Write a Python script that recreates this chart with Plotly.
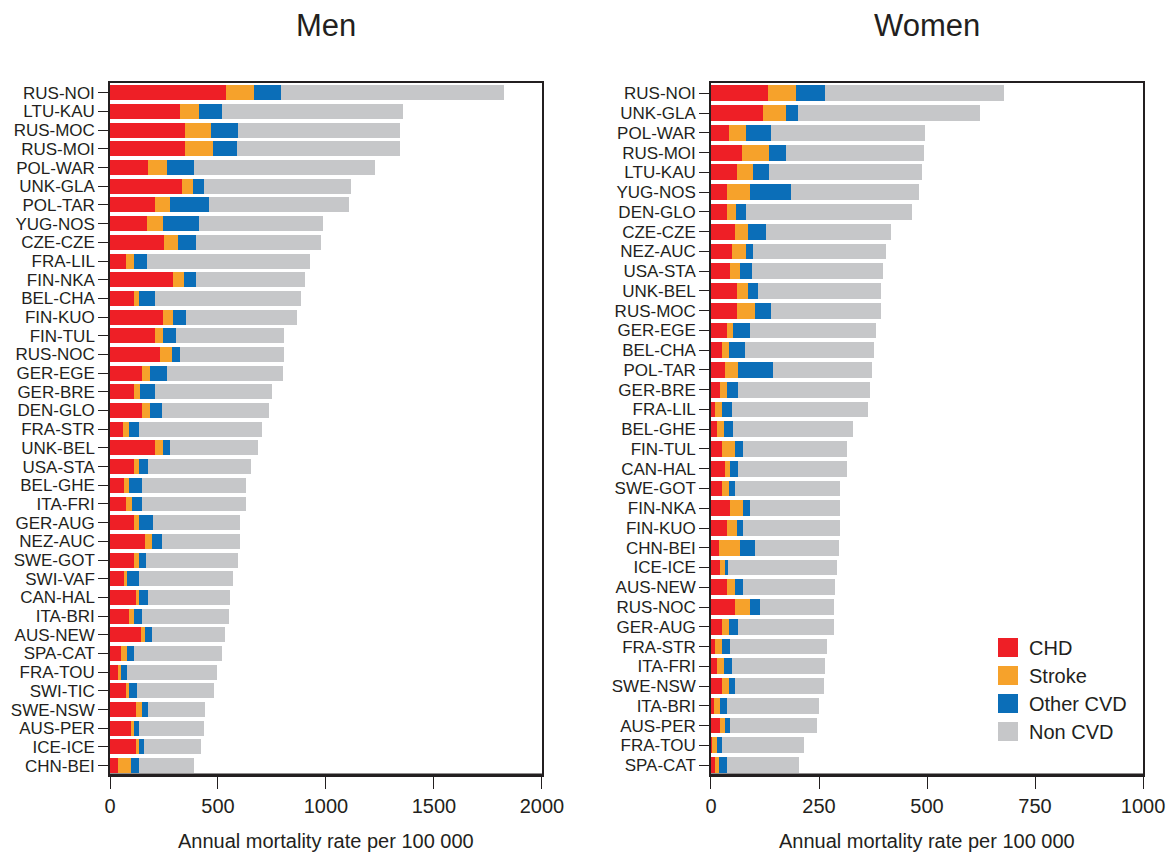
import plotly.graph_objects as go

# Annual mortality rate per 100 000, split by cause of death
causes = ["CHD", "Stroke", "Other CVD", "Non CVD"]
cause_colors = ["#EE1F26", "#F6A22B", "#0B6EB8", "#C6C7C9"]

men_pop = ["RUS-NOI", "LTU-KAU", "RUS-MOC", "RUS-MOI", "POL-WAR", "UNK-GLA", "POL-TAR",
           "YUG-NOS", "CZE-CZE", "FRA-LIL", "FIN-NKA", "BEL-CHA", "FIN-KUO", "FIN-TUL",
           "RUS-NOC", "GER-EGE", "GER-BRE", "DEN-GLO", "FRA-STR", "UNK-BEL", "USA-STA",
           "BEL-GHE", "ITA-FRI", "GER-AUG", "NEZ-AUC", "SWE-GOT", "SWI-VAF", "CAN-HAL",
           "ITA-BRI", "AUS-NEW", "SPA-CAT", "FRA-TOU", "SWI-TIC", "SWE-NSW", "AUS-PER",
           "ICE-ICE", "CHN-BEI"]
men_chd = [535, 322, 345, 345, 178, 332, 208, 172, 248, 73, 292, 109, 246, 210, 231, 150,
           111, 150, 58, 210, 109, 64, 74, 109, 163, 111, 64, 119, 89, 142, 51, 36, 74,
           119, 97, 119, 36]
men_stroke = [133, 90, 122, 130, 84, 51, 69, 74, 67, 36, 51, 23, 46, 36, 54, 36, 29, 36,
              29, 36, 23, 23, 30, 25, 32, 23, 17, 15, 22, 21, 30, 15, 15, 30, 14, 15, 60]
men_other = [124, 108, 127, 112, 129, 53, 182, 167, 84, 63, 56, 78, 61, 61, 37, 76, 70,
             55, 47, 31, 46, 63, 46, 67, 46, 31, 53, 44, 39, 32, 30, 30, 38, 29, 23, 23, 38]
men_non = [1033, 835, 747, 754, 837, 679, 647, 574, 579, 755, 505, 673, 513, 498, 483,
           537, 542, 497, 572, 406, 477, 482, 482, 401, 361, 429, 437, 378, 399, 338, 407,
           414, 353, 264, 302, 264, 255]

women_pop = ["RUS-NOI", "UNK-GLA", "POL-WAR", "RUS-MOI", "LTU-KAU", "YUG-NOS", "DEN-GLO",
             "CZE-CZE", "NEZ-AUC", "USA-STA", "UNK-BEL", "RUS-MOC", "GER-EGE", "BEL-CHA",
             "POL-TAR", "GER-BRE", "FRA-LIL", "BEL-GHE", "FIN-TUL", "CAN-HAL", "SWE-GOT",
             "FIN-NKA", "FIN-KUO", "CHN-BEI", "ICE-ICE", "AUS-NEW", "RUS-NOC", "GER-AUG",
             "FRA-STR", "ITA-FRI", "SWE-NSW", "ITA-BRI", "AUS-PER", "FRA-TOU", "SPA-CAT"]
women_chd = [132, 121, 41, 71, 60, 36, 36, 56, 48, 44, 60, 60, 36, 25, 33, 21, 10, 14, 25,
             33, 25, 44, 36, 18, 21, 36, 56, 25, 10, 14, 25, 6, 21, 3, 10]
women_stroke = [65, 53, 41, 64, 37, 54, 23, 30, 34, 23, 26, 41, 16, 16, 30, 15, 15, 16,
                31, 11, 16, 31, 24, 50, 11, 20, 34, 16, 15, 16, 16, 15, 12, 10, 8]
women_other = [68, 27, 57, 39, 38, 95, 23, 42, 15, 27, 23, 38, 38, 38, 81, 27, 23, 22, 19,
               19, 15, 15, 15, 34, 8, 19, 23, 22, 20, 19, 15, 15, 11, 12, 18]
women_non = [413, 421, 357, 318, 354, 296, 384, 288, 308, 304, 285, 255, 293, 299, 228,
             304, 316, 277, 240, 252, 243, 209, 224, 194, 251, 213, 171, 221, 224, 216,
             205, 214, 202, 190, 168]

men_ticks = [0, 500, 1000, 1500, 2000]
women_ticks = [0, 250, 500, 750, 1000]
axis_label = "Annual mortality rate per 100 000"

INK = "#231F20"
FONT = "Liberation Sans, Arial, Helvetica, sans-serif"

fig = go.Figure()

men_series = [men_chd, men_stroke, men_other, men_non]
women_series = [women_chd, women_stroke, women_other, women_non]

for name, color, vals in zip(causes, cause_colors, men_series):
    fig.add_trace(go.Bar(y=men_pop, x=vals, orientation="h", name=name,
                         marker=dict(color=color, line=dict(width=0)),
                         xaxis="x", yaxis="y", showlegend=False))
for name, color, vals in zip(causes, cause_colors, women_series):
    fig.add_trace(go.Bar(y=women_pop, x=vals, orientation="h", name=name,
                         marker=dict(color=color, line=dict(width=0)),
                         xaxis="x2", yaxis="y2", showlegend=False))

y_dom = [0.0904, 0.902]

def xaxis_style(domain, ticks, anchor):
    return dict(domain=domain, range=[0, ticks[-1]], tickmode="array", tickvals=ticks,
                ticktext=[str(t) for t in ticks], anchor=anchor, automargin=False,
                showgrid=False, zeroline=False, showline=True, mirror=True,
                linecolor=INK, linewidth=1.5, ticks="outside", ticklen=12,
                tickwidth=1.2, tickcolor=INK,
                tickfont=dict(family=FONT, size=20, color=INK), fixedrange=True)

def yaxis_style(anchor, cats):
    n = len(cats)
    return dict(domain=y_dom, anchor=anchor, type="category", automargin=False,
                tickmode="array", tickvals=cats, ticktext=cats,
                range=[n - 0.5, -0.5], showgrid=False, zeroline=False,
                showline=True, mirror=True, linecolor=INK, linewidth=1.5,
                ticks="outside", ticklen=10, tickwidth=1.2, tickcolor=INK,
                tickfont=dict(family=FONT, size=17, color=INK), fixedrange=True)

men_dom = [0.0941, 0.4636]
women_dom = [0.6082, 0.9778]

fig.update_layout(
    width=1169, height=852,
    margin=dict(l=0, r=0, t=0, b=0, autoexpand=False),
    paper_bgcolor="white", plot_bgcolor="white",
    barmode="stack", bargap=0.2,
    font=dict(family=FONT, color=INK),
    xaxis=xaxis_style(men_dom, men_ticks, "y"),
    yaxis=yaxis_style("x", men_pop),
    xaxis2=xaxis_style(women_dom, women_ticks, "y2"),
    yaxis2=yaxis_style("x2", women_pop),
)

# heavier baseline under each panel
for xr, yr in (("x domain", "y domain"), ("x2 domain", "y2 domain")):
    fig.add_shape(type="line", xref=xr, yref=yr, x0=0, x1=1, y0=0, y1=0,
                  line=dict(color=INK, width=3), layer="above")

# panel titles and axis titles
for dom, title in ((men_dom, "Men"), (women_dom, "Women")):
    cx = (dom[0] + dom[1]) / 2
    fig.add_annotation(x=cx, y=1 - 26 / 852, xref="paper", yref="paper",
                       text=title, showarrow=False, xanchor="center", yanchor="middle",
                       font=dict(family=FONT, size=31, color=INK))
    fig.add_annotation(x=cx, y=1 - 841 / 852, xref="paper", yref="paper",
                       text=axis_label, showarrow=False, xanchor="center", yanchor="middle",
                       font=dict(family=FONT, size=20, color=INK))

# legend: coloured squares with cause names
leg_x0 = 998 / 1169
leg_w = 20 / 1169
for i, (name, color) in enumerate(zip(causes, cause_colors)):
    top = 638 + i * 28
    fig.add_shape(type="rect", xref="paper", yref="paper",
                  x0=leg_x0, x1=leg_x0 + leg_w,
                  y0=1 - (top + 19) / 852, y1=1 - top / 852,
                  fillcolor=color, line=dict(width=0), layer="above")
    fig.add_annotation(x=1027 / 1169, y=1 - (top + 10) / 852, xref="paper", yref="paper",
                       text=name, showarrow=False, xanchor="left", yanchor="middle",
                       font=dict(family=FONT, size=20, color=INK))

fig.write_html("out.html")
